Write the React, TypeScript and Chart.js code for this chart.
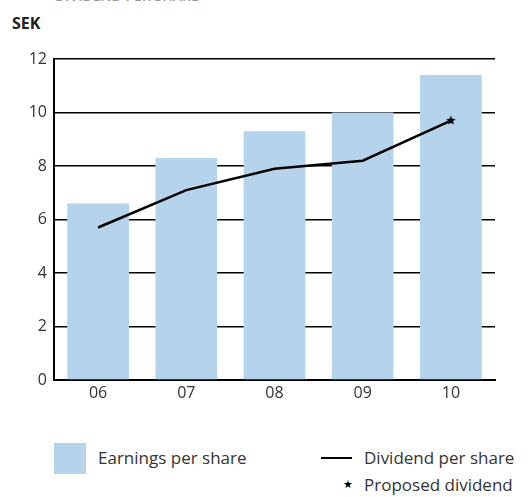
import React, { useEffect, useRef } from "react";
import { Chart, registerables } from "chart.js";

Chart.register(...registerables);

const categories = ["06", "07", "08", "09", "10"];
const earningsPerShare = [6.6, 8.3, 9.3, 10.0, 11.4];
const dividendPerShare = [5.7, 7.1, 7.9, 8.2, 9.7];
const yTicks = [0, 2, 4, 6, 8, 10, 12];

const FONT = "'Open Sans', 'Liberation Sans', sans-serif";
const BAR_COLOR = "#b5d4ec";

function makeStar(): HTMLCanvasElement {
  const c = document.createElement("canvas");
  c.width = 11;
  c.height = 11;
  const ctx = c.getContext("2d")!;
  ctx.fillStyle = "#000";
  ctx.beginPath();
  const cx = 5.5, cy = 5.5, R = 5, r = 2.2;
  for (let i = 0; i < 10; i++) {
    const a = -Math.PI / 2 + (i * Math.PI) / 5;
    const rad = i % 2 === 0 ? R : r;
    const x = cx + rad * Math.cos(a);
    const y = cy + rad * Math.sin(a);
    if (i === 0) ctx.moveTo(x, y);
    else ctx.lineTo(x, y);
  }
  ctx.closePath();
  ctx.fill();
  return c;
}

export default function App() {
  const ref = useRef<HTMLCanvasElement | null>(null);

  useEffect(() => {
    if (!ref.current) return;
    const star = makeStar();
    const last = dividendPerShare.length - 1;
    const chart = new Chart(ref.current, {
      data: {
        labels: categories,
        datasets: [
          {
            type: "line",
            label: "Dividend per share",
            data: dividendPerShare,
            borderColor: "#000",
            borderWidth: 2.5,
            tension: 0,
            order: 0,
            pointRadius: dividendPerShare.map((_, i) => (i === last ? 5 : 0)),
            pointStyle: dividendPerShare.map((_, i) => (i === last ? star : "circle")) as any,
            pointBackgroundColor: "#000",
            pointBorderWidth: 0,
          },
          {
            type: "bar",
            label: "Earnings per share",
            data: earningsPerShare,
            backgroundColor: BAR_COLOR,
            borderWidth: 0,
            barPercentage: 0.7,
            categoryPercentage: 1,
            order: 1,
          },
        ],
      } as any,
      options: {
        responsive: false,
        animation: false,
        maintainAspectRatio: false,
        layout: { padding: { left: 0, right: 36, top: 59, bottom: 0 } },
        plugins: { legend: { display: false }, tooltip: { enabled: false } },
        scales: {
          x: {
            grid: { display: false, drawTicks: false },
            border: { display: true, color: "#000", width: 2 },
            ticks: { color: "#333", font: { family: FONT, size: 16 }, padding: 4 },
            afterFit: (s: any) => {
              s.height = 30;
            },
          },
          y: {
            min: 0,
            max: 12,
            afterBuildTicks: (s: any) => {
              s.ticks = yTicks.map((v) => ({ value: v }));
            },
            grid: { color: "#000", lineWidth: 1.5, drawTicks: false },
            border: { display: true, color: "#000", width: 2 },
            ticks: { color: "#333", font: { family: FONT, size: 16 }, padding: 7 },
            afterFit: (s: any) => {
              s.width = 54;
            },
          },
        },
      },
    });
    return () => chart.destroy();
  }, []);

  const textStyle: React.CSSProperties = {
    position: "absolute",
    fontFamily: FONT,
    color: "#333",
    fontSize: 17,
    lineHeight: "20px",
    whiteSpace: "nowrap",
  };

  return (
    <div
      style={{
        position: "absolute",
        left: 0,
        top: 0,
        width: 531,
        height: 497,
        overflow: "hidden",
        background: "#fff",
      }}
    >
      <div
        style={{
          position: "absolute",
          left: 55,
          top: -11,
          fontFamily: FONT,
          fontSize: 14,
          lineHeight: "14px",
          color: "#999",
          fontWeight: 600,
          whiteSpace: "nowrap",
        }}
      >
        DIVIDEND PER SHARE
      </div>
      <div
        style={{
          position: "absolute",
          left: 12,
          top: 13,
          fontFamily: FONT,
          fontSize: 16,
          lineHeight: "20px",
          fontWeight: 700,
          color: "#222",
        }}
      >
        SEK
      </div>
      <canvas
        ref={ref}
        width={531}
        height={410}
        style={{ position: "absolute", left: 0, top: 0, width: 531, height: 410 }}
      />
      <div
        style={{
          position: "absolute",
          left: 54,
          top: 443,
          width: 32,
          height: 31,
          background: BAR_COLOR,
        }}
      />
      <div style={{ ...textStyle, left: 98, top: 448 }}>Earnings per share</div>
      <div
        style={{
          position: "absolute",
          left: 321,
          top: 457,
          width: 31,
          height: 2,
          background: "#000",
        }}
      />
      <div style={{ ...textStyle, left: 364, top: 448 }}>Dividend per share</div>
      <div
        style={{
          ...textStyle,
          left: 343,
          top: 477,
          fontSize: 11,
          lineHeight: "14px",
          color: "#000",
        }}
      >
        ★
      </div>
      <div style={{ ...textStyle, left: 364, top: 475 }}>Proposed dividend</div>
    </div>
  );
}
